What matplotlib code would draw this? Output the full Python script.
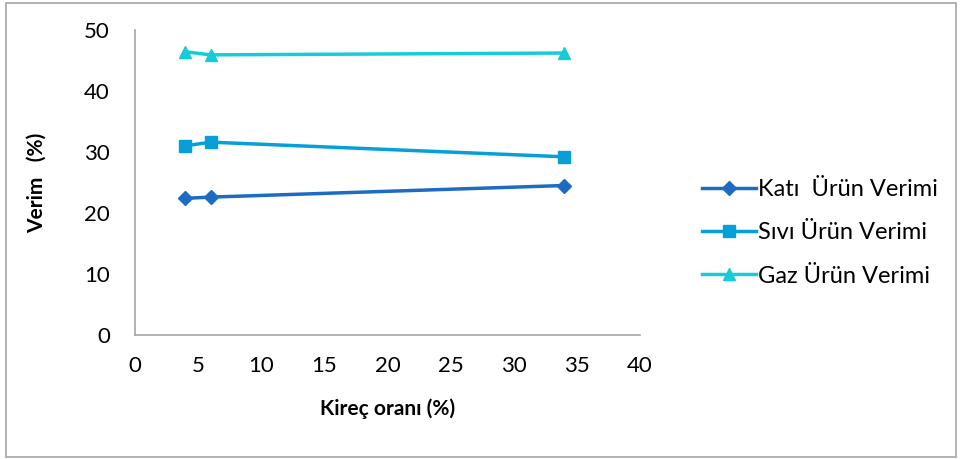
import matplotlib.pyplot as plt
from matplotlib.patches import Rectangle

# veriler
kirec = [4, 6, 34]
kati = [22.4, 22.6, 24.5]
sivi = [31.0, 31.6, 29.2]
gaz = [46.4, 45.9, 46.2]

etiketler = ["Katı  Ürün Verimi", "Sıvı Ürün Verimi", "Gaz Ürün Verimi"]
renkler = ["#1E6BC4", "#079FD8", "#16CCD8"]
isaretler = ["D", "s", "^"]
boyutlar = [7, 9, 9]

plt.rcParams["font.family"] = ["Lato", "DejaVu Sans"]

fig = plt.figure(figsize=(9.6, 4.59), dpi=100)
ax = fig.add_axes([0.1406, 0.270, 0.526, 0.665])

for y, lab, c, m, ms in zip([kati, sivi, gaz], etiketler, renkler, isaretler, boyutlar):
    ax.plot(kirec, y, color=c, marker=m, markersize=ms, linewidth=2.5, label=lab)

ax.set_xlim(0, 40)
ax.set_ylim(0, 50)
ax.set_xticks(range(0, 41, 5))
ax.set_yticks(range(0, 51, 10))
ax.tick_params(axis="both", length=0, labelsize=16)
ax.tick_params(axis="y", pad=18)
ax.tick_params(axis="x", pad=15)

for s in ["top", "right"]:
    ax.spines[s].set_visible(False)
for s in ["left", "bottom"]:
    ax.spines[s].set_color("#A6A6A6")
    ax.spines[s].set_linewidth(1.2)

ax.set_xlabel("Kireç oranı (%)", fontsize=15, fontweight="bold", labelpad=16)
ax.set_ylabel("Verim   (%)", fontsize=15, fontweight="bold", labelpad=27)

ax.legend(loc="center left", bbox_to_anchor=(1.08, 0.335), frameon=False,
          fontsize=17, handlelength=2.3, labelspacing=0.95, handletextpad=0.1)

fig.patches.append(Rectangle((0.006, 0.004), 0.99, 0.99, transform=fig.transFigure,
                             fill=False, edgecolor="#A6A6A6", linewidth=1.2))

fig.savefig("out.png", dpi=100)
